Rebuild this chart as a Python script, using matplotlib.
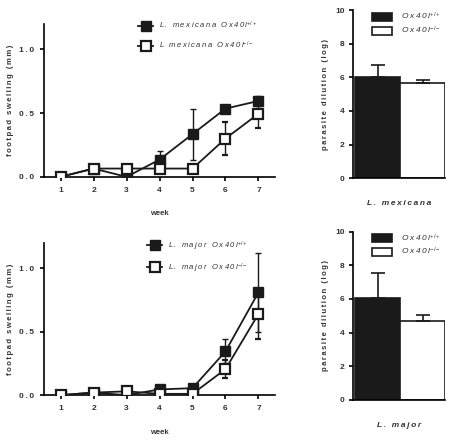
import numpy as np
import matplotlib
matplotlib.use("Agg")
import matplotlib.pyplot as plt

plt.rcParams['font.family'] = ['Liberation Sans', 'DejaVu Sans']
plt.rcParams['mathtext.fontset'] = 'custom'
plt.rcParams['mathtext.rm'] = 'Liberation Sans'
plt.rcParams['mathtext.it'] = 'Liberation Sans:italic'

# footpad swelling (mm), weeks 1-7
weeks = [1, 2, 3, 4, 5, 6, 7]
mex_wt = [0.0, 0.065, 0.0, 0.135, 0.335, 0.535, 0.595]
mex_wt_err = [0.0, 0.0, 0.02, 0.07, 0.2, 0.03, 0.04]
mex_ko = [0.0, 0.065, 0.065, 0.065, 0.065, 0.30, 0.495]
mex_ko_err = [0.0, 0.0, 0.0, 0.0, 0.0, 0.13, 0.115]

maj_wt = [0.0, 0.02, 0.0, 0.045, 0.055, 0.345, 0.81]
maj_wt_err = [0.0, 0.0, 0.0, 0.0, 0.0, 0.095, 0.315]
maj_ko = [0.0, 0.02, 0.03, 0.01, 0.01, 0.205, 0.64]
maj_ko_err = [0.0, 0.0, 0.0, 0.0, 0.0, 0.07, 0.2]

# parasite dilution (log)
mex_bars = [6.03, 5.68]
mex_bars_err = [0.72, 0.15]
maj_bars = [6.04, 4.71]
maj_bars_err = [1.5, 0.34]

HS = '\u2009'


def sp(s):
    return HS.join(s)


def line_panel(ax, wt, wt_err, ko, ko_err, name_wt, name_ko):
    ax.errorbar(weeks, wt, yerr=wt_err, color='#1a1a1a', lw=1.3, marker='s',
                ms=6.5, mfc='#1a1a1a', mec='#1a1a1a', capsize=2, elinewidth=1,
                label=name_wt, zorder=3)
    ax.errorbar(weeks, ko, yerr=ko_err, color='#1a1a1a', lw=1.3, marker='s',
                ms=6.5, mfc='white', mec='#1a1a1a', mew=1.6, capsize=2,
                elinewidth=1, label=name_ko, zorder=4)
    ax.set_xlim(0.5, 7.5)
    ax.set_ylim(0, 1.2)
    ax.set_xticks(weeks)
    ax.set_xticklabels([str(w) for w in weeks], fontsize=6, fontweight='bold',
                       color='#333333')
    ax.set_yticks([0, 0.5, 1.0])
    ax.set_yticklabels([sp('0.0'), sp('0.5'), sp('1.0')], fontsize=6,
                       fontweight='bold', color='#333333')
    ax.set_ylabel(sp('footpad swelling (mm)'), fontsize=5.5, fontweight='bold',
                  color='#333333', labelpad=4)
    ax.set_xlabel('week', fontsize=5.5, fontweight='bold', color='#333333',
                  labelpad=12)
    for s in ['top', 'right']:
        ax.spines[s].set_visible(False)
    for s in ['left', 'bottom']:
        ax.spines[s].set_linewidth(1.2)
    ax.tick_params(width=1.2, length=3, pad=4)
    leg = ax.legend(loc='upper center', bbox_to_anchor=(0.665, 1.07),
                    frameon=False, handlelength=2.0, handletextpad=0.8,
                    labelspacing=1.15, prop={'size': 5.5, 'style': 'italic'})
    for t in leg.get_texts():
        t.set_color('#333333')


def bar_panel(ax, vals, errs, title):
    ax.bar([0], [vals[0]], width=1, color='#1a1a1a', edgecolor='#1a1a1a',
           lw=1.2, label=sp('Ox40l') + '$^{+/+}$')
    ax.bar([1], [vals[1]], width=1, color='white', edgecolor='#1a1a1a',
           lw=1.2, label=sp('Ox40l') + '$^{-/-}$')
    ax.errorbar([0, 1], vals, yerr=[[0, 0], errs], fmt='none',
                ecolor='#1a1a1a', elinewidth=1.2, capsize=5, capthick=1.2)
    ax.set_xlim(-0.55, 1.5)
    ax.set_ylim(0, 10)
    ax.set_yticks([0, 2, 4, 6, 8, 10])
    ax.set_yticklabels(['0', '2', '4', '6', '8', '10'], fontsize=6,
                       fontweight='bold', color='#333333')
    ax.set_xticks([])
    ax.set_ylabel(sp('parasite dilution (log)'), fontsize=5.5,
                  fontweight='bold', color='#333333', labelpad=4)
    ax.set_xlabel(sp(title), fontsize=6, fontweight='bold', style='italic',
                  color='#333333', labelpad=16)
    for s in ['top', 'right']:
        ax.spines[s].set_visible(False)
    for s in ['left', 'bottom']:
        ax.spines[s].set_linewidth(1.2)
    ax.tick_params(width=1.2, length=3, pad=3)
    leg = ax.legend(loc='upper left', bbox_to_anchor=(0.13, 1.04),
                    frameon=False, handlelength=2.4, handleheight=1.1,
                    handletextpad=1.0, labelspacing=0.3,
                    prop={'size': 6, 'style': 'italic'})
    for t in leg.get_texts():
        t.set_color('#333333')


fig = plt.figure(figsize=(4.5, 4.41), dpi=100)

ax1 = fig.add_axes([0.098, 0.599, 0.513, 0.347])
line_panel(ax1, mex_wt, mex_wt_err, mex_ko, mex_ko_err,
           sp('L. mexicana Ox40l') + '$^{+/+}$',
           sp('L mexicana Ox40l') + '$^{-/-}$')

ax2 = fig.add_axes([0.098, 0.104, 0.513, 0.345])
line_panel(ax2, maj_wt, maj_wt_err, maj_ko, maj_ko_err,
           sp('L. major Ox40l') + '$^{+/+}$',
           sp('L. major Ox40l') + '$^{-/-}$')

ax3 = fig.add_axes([0.784, 0.596, 0.205, 0.381])
bar_panel(ax3, mex_bars, mex_bars_err, 'L. mexicana')

ax4 = fig.add_axes([0.784, 0.093, 0.205, 0.382])
bar_panel(ax4, maj_bars, maj_bars_err, 'L. major')

fig.savefig('out.png', dpi=100)
